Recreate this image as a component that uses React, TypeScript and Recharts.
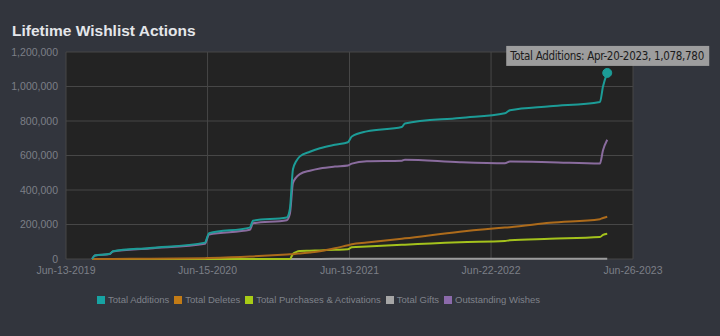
import { LineChart, Line, XAxis, YAxis, CartesianGrid, Legend, ReferenceDot } from "recharts";

// shared dates for all series
const dates = [
  "2019-08-20", "2019-08-27", "2019-10-05", "2019-10-13", "2020-01-17", "2020-06-08", "2020-06-19",
  "2020-10-03", "2020-10-11", "2021-01-07", "2021-01-15", "2021-01-23", "2021-01-31", "2021-02-10",
  "2021-03-08", "2021-04-03", "2021-05-12", "2021-06-15", "2021-06-25", "2021-08-03", "2021-11-02",
  "2021-11-10", "2022-04-02", "2022-07-28", "2022-08-10", "2022-11-22", "2023-04-01", "2023-04-09",
  "2023-04-20",
];

const totalAdditions = [
  0, 20000, 30000, 45000, 64000, 95000, 150000, 182000, 222000, 241000, 290000, 520000, 565000, 595000,
  622000, 642000, 662000, 677000, 710000, 740000, 765000, 786000, 818000, 845000, 862000, 885000, 910000,
  1000000, 1078780,
];
const totalDeletes = [
  0, 200, 500, 600, 1500, 5000, 5500, 14000, 15000, 26000, 27000, 28000, 30000, 32000, 38000, 45000,
  62000, 80000, 85000, 95000, 118000, 120000, 158000, 182000, 184000, 210000, 231000, 238000, 245000,
];
const totalPurchases = [
  0, 0, 0, 0, 0, 0, 0, 0, 0, 0, 0, 30000, 40000, 46000, 48000, 50000, 53000, 56000, 68000, 72000, 82000,
  83000, 97000, 104000, 109000, 117000, 127000, 140000, 147000,
];
const totalGifts = [
  0, 50, 100, 100, 200, 300, 300, 400, 400, 500, 500, 500, 550, 600, 650, 700, 750, 800, 800, 900, 1000,
  1000, 1200, 1300, 1300, 1400, 1500, 1500, 1500,
];
const outstandingWishes = [
  0, 20000, 29000, 44000, 61000, 88000, 142000, 169000, 207000, 225000, 262000, 440000, 472000, 492000,
  512000, 525000, 536000, 542000, 553000, 567000, 570000, 576000, 561000, 555000, 565000, 561000, 553000,
  630000, 691000,
];

const tickDates = ["2019-06-13", "2020-06-15", "2021-06-19", "2022-06-22", "2023-06-26"];
const yTicks = [0, 200000, 400000, 600000, 800000, 1000000, 1200000];

const highlight = { date: "2023-04-20", value: 1078780, name: "Total Additions" };

const series = [
  { key: "add", name: "Total Additions", color: "#1c9c97", legend: "#17a3a3", values: totalAdditions },
  { key: "del", name: "Total Deletes", color: "#ad6b1b", legend: "#c27b16", values: totalDeletes },
  { key: "pur", name: "Total Purchases & Activations", color: "#a4c21c", legend: "#a8cc16", values: totalPurchases },
  { key: "gift", name: "Total Gifts", color: "#9c9c9c", legend: "#a6a6a6", values: totalGifts },
  { key: "out", name: "Outstanding Wishes", color: "#8a6c9e", legend: "#8b6aab", values: outstandingWishes },
];

const ts = (d: string) => Date.parse(d + "T00:00:00Z");
const MONTHS = ["Jan", "Feb", "Mar", "Apr", "May", "Jun", "Jul", "Aug", "Sep", "Oct", "Nov", "Dec"];
const fmtDate = (v: number) => {
  const d = new Date(v);
  return `${MONTHS[d.getUTCMonth()]}-${String(d.getUTCDate()).padStart(2, "0")}-${d.getUTCFullYear()}`;
};
const fmtNum = (v: number) => v.toLocaleString("en-US");

const data = dates.map((d, i) => {
  const row: Record<string, number> = { t: ts(d) };
  series.forEach((s) => (row[s.key] = s.values[i]));
  return row;
});

const font = "'Liberation Sans', Arial, sans-serif";

function TipLabel(props: any) {
  const vb = props.viewBox || {};
  const cx = vb.x + (vb.width || 0) / 2;
  const cy = vb.y + (vb.height || 0) / 2;
  const text = `${highlight.name}: ${fmtDate(ts(highlight.date))}, ${fmtNum(highlight.value)}`;
  return (
    <g>
      <rect x={cx - 101} y={cy - 27} width={203} height={20} fill="#a3a3a3" fillOpacity={0.95} />
      <text x={cx - 97} y={cy - 13} fontSize={11.5} fill="#1b1b1b" fontFamily="'DejaVu Sans Condensed', 'DejaVu Sans', sans-serif" textLength={194}>
        {text}
      </text>
    </g>
  );
}

function LegendContent() {
  return (
    <div style={{ display: "flex", alignItems: "center", fontFamily: font, fontSize: 9.5, color: "#7f828a", whiteSpace: "nowrap" }}>
      {series.map((s) => (
        <span key={s.key} style={{ display: "flex", alignItems: "center", marginRight: 5 }}>
          <span style={{ width: 8, height: 8, background: s.legend, marginRight: 3, display: "inline-block" }} />
          {s.name}
        </span>
      ))}
    </div>
  );
}

export default function App() {
  return (
    <div style={{ position: "fixed", left: 0, top: 0, width: 720, height: 336, background: "#32353d", overflow: "hidden" }}>
      <div style={{ position: "absolute", left: 12, top: 22, fontFamily: font, fontWeight: "bold", fontSize: 15.5, color: "#e4e6ea" }}>
        Lifetime Wishlist Actions
      </div>
      <LineChart width={720} height={336} data={data} margin={{ top: 52, right: 87, bottom: 36, left: 0 }}>
        <CartesianGrid fill="#232323" stroke="#474747" strokeWidth={1} />
        <XAxis
          dataKey="t"
          type="number"
          scale="time"
          domain={[ts(tickDates[0]), ts(tickDates[tickDates.length - 1])]}
          ticks={tickDates.map(ts)}
          tickFormatter={fmtDate}
          axisLine={false}
          tickLine={false}
          tick={{ fill: "#7c7f87", fontSize: 10.5, fontFamily: font }}
          interval={0}
        />
        <YAxis
          width={66}
          domain={[0, 1200000]}
          ticks={yTicks}
          tickFormatter={fmtNum}
          axisLine={false}
          tickLine={false}
          tick={{ fill: "#7c7f87", fontSize: 10.5, fontFamily: font }}
          interval={0}
        />
        <Legend content={<LegendContent />} wrapperStyle={{ left: 97, top: 294, width: "auto" }} />
        {series
          .slice()
          .reverse()
          .map((s) => (
            <Line
              key={s.key}
              dataKey={s.key}
              name={s.name}
              type="monotone"
              stroke={s.color}
              strokeWidth={2}
              dot={false}
              isAnimationActive={false}
            />
          ))}
        <ReferenceDot
          x={ts(highlight.date)}
          y={highlight.value}
          r={4.5}
          fill="#1c9c97"
          stroke="#1c9c97"
          label={<TipLabel />}
        />
      </LineChart>
    </div>
  );
}
